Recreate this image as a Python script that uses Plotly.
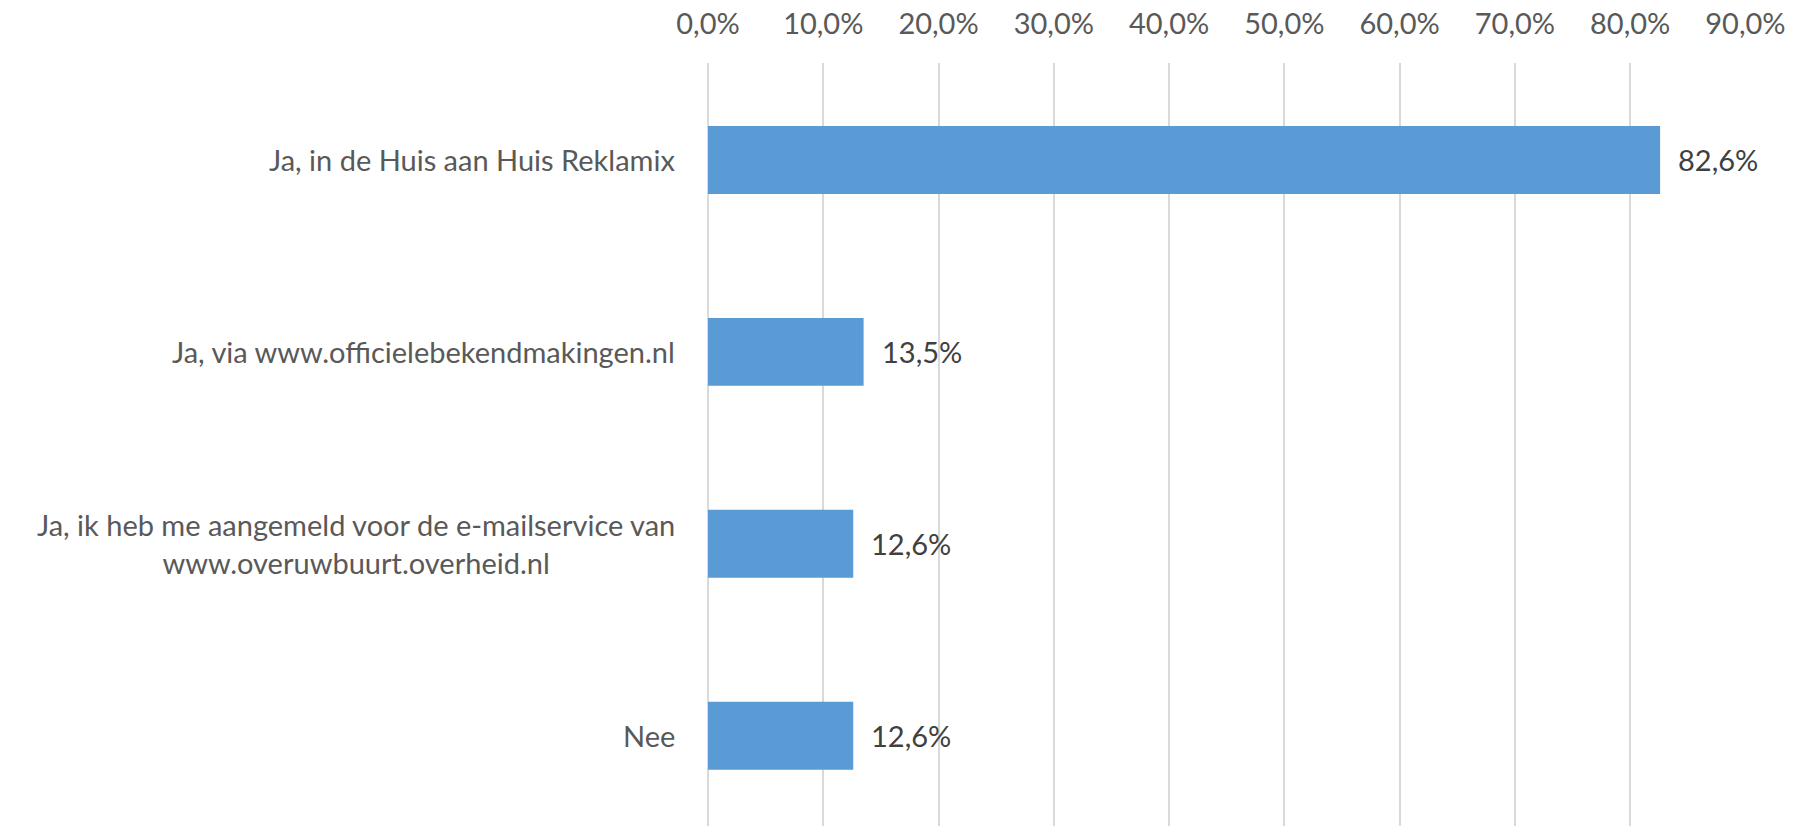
import plotly.graph_objects as go

categories = [
    "Ja, in de Huis aan Huis Reklamix",
    "Ja, via www.officielebekendmakingen.nl",
    "Ja, ik heb me aangemeld voor de e-mailservice van<br>www.overuwbuurt.overheid.nl",
    "Nee",
]
values = [0.826, 0.135, 0.126, 0.126]
tick_values = [0.0, 0.1, 0.2, 0.3, 0.4, 0.5, 0.6, 0.7, 0.8, 0.9]

FONT = "Lato"
GREY = "#595959"

fig = go.Figure()

fig.add_trace(
    go.Bar(
        x=values,
        y=categories,
        orientation="h",
        width=0.354,
        marker=dict(color="#5B9BD5", line=dict(width=0)),
        hoverinfo="x+y",
    )
)

# Category labels (centered multi-line, like the original)
for cat in categories:
    fig.add_annotation(
        x=0,
        xref="paper",
        y=cat,
        yref="y",
        text=cat,
        showarrow=False,
        xanchor="right",
        yanchor="middle",
        align="center",
        xshift=-31,
        font=dict(family=FONT, size=29, color=GREY),
    )

# Data labels
for cat, val in zip(categories, values):
    fig.add_annotation(
        x=val,
        xref="x",
        y=cat,
        yref="y",
        text=f"{val * 100:.1f}%".replace(".", ","),
        showarrow=False,
        xanchor="left",
        yanchor="middle",
        xshift=16,
        font=dict(family=FONT, size=29, color="#404040"),
    )

fig.update_layout(
    width=1795,
    height=826,
    margin=dict(l=708, r=49, t=63, b=0, autoexpand=False),
    plot_bgcolor="white",
    paper_bgcolor="white",
    separators=",.",
    showlegend=False,
    xaxis=dict(
        side="top",
        range=[0, 0.9005],
        tickvals=tick_values,
        tickformat=".1%",
        showgrid=True,
        gridcolor="#D9D9D9",
        gridwidth=2,
        zeroline=True,
        zerolinecolor="#D9D9D9",
        zerolinewidth=2,
        showline=False,
        ticks="",
        ticklabelstandoff=22,
        automargin=False,
        tickfont=dict(family=FONT, size=29, color=GREY),
        fixedrange=True,
    ),
    yaxis=dict(
        type="category",
        categoryorder="array",
        categoryarray=categories,
        range=[3.47, -0.505],
        showticklabels=False,
        showgrid=False,
        zeroline=False,
        showline=False,
        ticks="",
        automargin=False,
        fixedrange=True,
    ),
)

# drop the default 8px body margin so the chart sits flush in the window
fig.write_html(
    "out.html",
    config={"displayModeBar": False},
    post_script="document.body.style.margin='0';",
)
